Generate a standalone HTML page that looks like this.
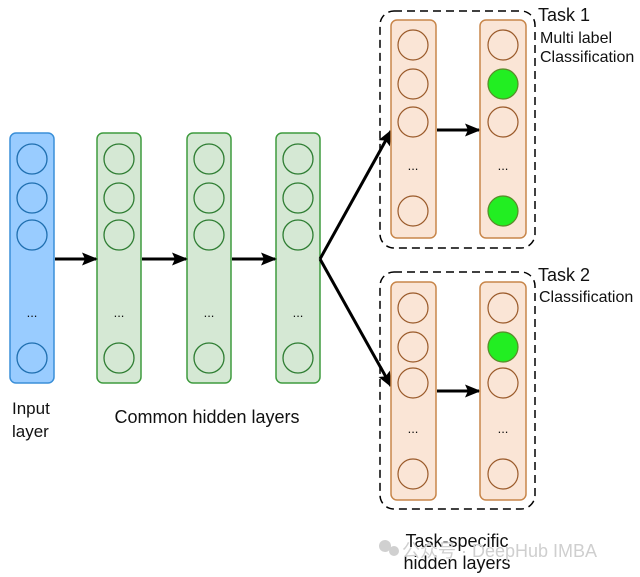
<!DOCTYPE html>
<html><head><meta charset="utf-8"><style>
html,body{margin:0;padding:0;background:#fff;}
svg{display:block;}
text{font-family:"Liberation Sans","Noto Sans CJK SC",sans-serif;fill:#111;}
</style></head><body>
<svg width="640" height="577" viewBox="0 0 640 577" xmlns="http://www.w3.org/2000/svg">
<defs>
<marker id="ah2" markerWidth="16" markerHeight="13" refX="14" refY="6.5" orient="auto" markerUnits="userSpaceOnUse"><path d="M0,0 L16,6.5 L0,13 L3,6.5 Z" fill="#000"/></marker>
</defs>
<!-- input -->
<rect x="10" y="133" width="44" height="250" rx="6" fill="#99ccff" stroke="#3a8fd8" stroke-width="1.5"/>
<g fill="none" stroke="#1f6fb0" stroke-width="1.3">
<circle cx="32" cy="159" r="15"/><circle cx="32" cy="198" r="15"/><circle cx="32" cy="235" r="15"/><circle cx="32" cy="358" r="15"/>
</g>
<text x="32" y="317" font-size="13" text-anchor="middle">...</text>
<g>
<rect x="97" y="133" width="44" height="250" rx="6" fill="#d5e8d4" stroke="#3f9b3f" stroke-width="1.5"/>
<rect x="187" y="133" width="44" height="250" rx="6" fill="#d5e8d4" stroke="#3f9b3f" stroke-width="1.5"/>
<rect x="276" y="133" width="44" height="250" rx="6" fill="#d5e8d4" stroke="#3f9b3f" stroke-width="1.5"/>
</g>
<g fill="none" stroke="#2e7d32" stroke-width="1.3">
<circle cx="119" cy="159" r="15"/><circle cx="119" cy="198" r="15"/><circle cx="119" cy="235" r="15"/><circle cx="119" cy="358" r="15"/>
<circle cx="209" cy="159" r="15"/><circle cx="209" cy="198" r="15"/><circle cx="209" cy="235" r="15"/><circle cx="209" cy="358" r="15"/>
<circle cx="298" cy="159" r="15"/><circle cx="298" cy="198" r="15"/><circle cx="298" cy="235" r="15"/><circle cx="298" cy="358" r="15"/>
</g>
<text x="119" y="317" font-size="13" text-anchor="middle">...</text>
<text x="209" y="317" font-size="13" text-anchor="middle">...</text>
<text x="298" y="317" font-size="13" text-anchor="middle">...</text>
<g stroke="#000" stroke-width="3" fill="none">
<line x1="55" y1="259" x2="96" y2="259" marker-end="url(#ah2)"/>
<line x1="142" y1="259" x2="186" y2="259" marker-end="url(#ah2)"/>
<line x1="232" y1="259" x2="275" y2="259" marker-end="url(#ah2)"/>
<line x1="320" y1="259" x2="391" y2="131" marker-end="url(#ah2)"/>
<line x1="320" y1="259" x2="391" y2="386" marker-end="url(#ah2)"/>
<line x1="437" y1="130" x2="479" y2="130" marker-end="url(#ah2)"/>
<line x1="437" y1="391" x2="479" y2="391" marker-end="url(#ah2)"/>
</g>
<rect x="380" y="11" width="155" height="237" rx="14" fill="none" stroke="#000" stroke-width="1.5" stroke-dasharray="8,5"/>
<rect x="380" y="272" width="155" height="237" rx="14" fill="none" stroke="#000" stroke-width="1.5" stroke-dasharray="8,5"/>
<g fill="#fae5d6" stroke="#c8864a" stroke-width="1.5">
<rect x="391" y="20" width="45" height="218" rx="6"/><rect x="480" y="20" width="46" height="218" rx="6"/>
<rect x="391" y="282" width="45" height="218" rx="6"/><rect x="480" y="282" width="46" height="218" rx="6"/>
</g>
<g fill="none" stroke="#9a5a2a" stroke-width="1.2">
<circle cx="413" cy="45" r="15"/><circle cx="413" cy="84" r="15"/><circle cx="413" cy="122" r="15"/><circle cx="413" cy="211" r="15"/>
<circle cx="503" cy="45" r="15"/><circle cx="503" cy="122" r="15"/>
<circle cx="413" cy="308" r="15"/><circle cx="413" cy="347" r="15"/><circle cx="413" cy="383" r="15"/><circle cx="413" cy="474" r="15"/>
<circle cx="503" cy="308" r="15"/><circle cx="503" cy="383" r="15"/><circle cx="503" cy="474" r="15"/>
</g>
<g fill="#22ee22" stroke="#5a8a2a" stroke-width="1.2">
<circle cx="503" cy="84" r="15"/><circle cx="503" cy="211" r="15"/><circle cx="503" cy="347" r="15"/>
</g>
<g font-size="13" text-anchor="middle">
<text x="413" y="170">...</text><text x="503" y="170">...</text>
<text x="413" y="433">...</text><text x="503" y="433">...</text>
</g>
<g font-size="16">
<text x="538" y="21" font-size="18">Task 1</text>
<text x="540" y="43">Multi label</text>
<text x="540" y="62">Classification</text>
<text x="538" y="281" font-size="18">Task 2</text>
<text x="539" y="302">Classification</text>
<text x="12" y="414" font-size="17">Input</text>
<text x="12" y="437" font-size="17">layer</text>
<text x="207" y="423" font-size="18" text-anchor="middle">Common hidden layers</text>
<text x="457" y="547" font-size="18" text-anchor="middle">Task-specific</text>
<text x="457" y="569" font-size="18" text-anchor="middle">hidden layers</text>
</g>
<circle cx="385" cy="546" r="6" fill="#d0d0d0"/><circle cx="394" cy="551" r="5" fill="#d0d0d0"/>
<text x="402" y="557" font-size="18" style="fill:#cfcfcf">公众号 · DeepHub IMBA</text>
</svg>
</body></html>
